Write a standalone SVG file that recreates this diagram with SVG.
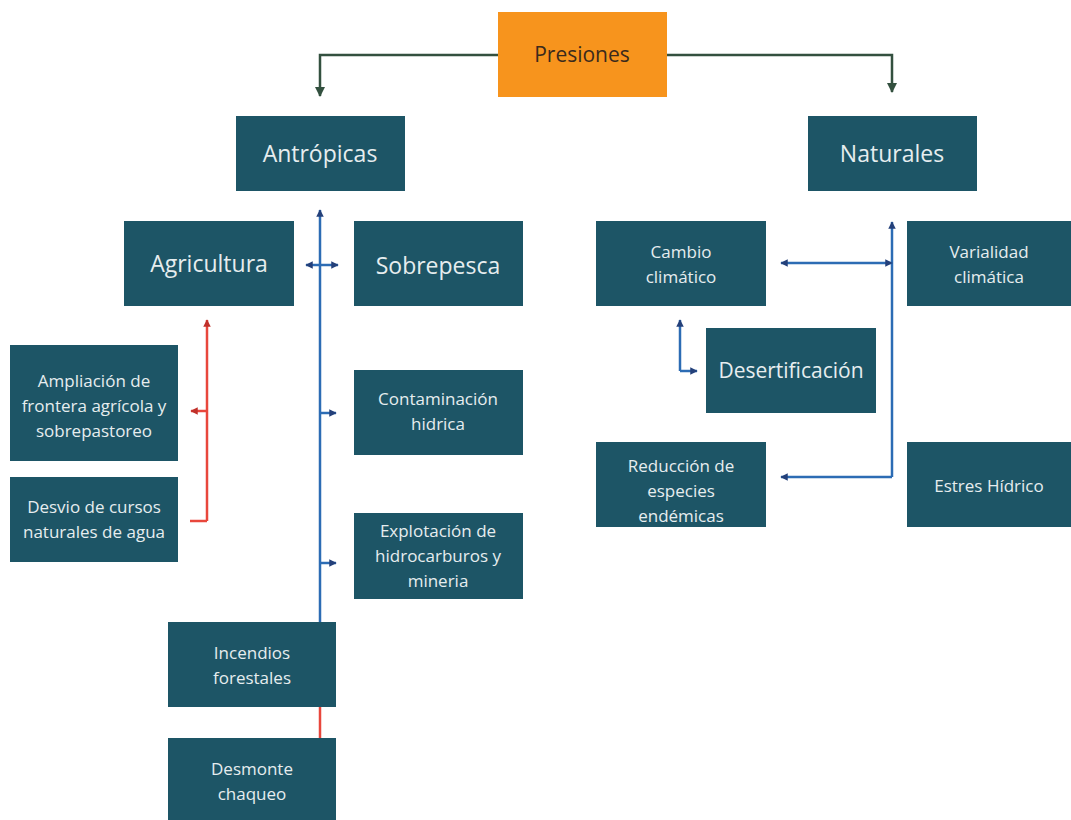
<svg xmlns="http://www.w3.org/2000/svg" width="1071" height="820" viewBox="0 0 1071 820">
  <style>
    .box { fill: #1d5566; }
    .root { fill: #f7941d; }
    .t { font-family: "Open Sans", "Noto Sans", "Liberation Sans", sans-serif; fill: #e6edef; text-anchor: middle; }
    .big { font-size: 23px; }
    .mid { font-size: 17px; }
    .rt { fill: #3b2a1c; font-size: 21px; }
    .green { stroke: #33503f; stroke-width: 2.5; fill: none; }
    .blue { stroke: #2c6cb4; stroke-width: 2.5; fill: none; }
    .red { stroke: #e8473c; stroke-width: 2.5; fill: none; }
  </style>
  <defs>
    <marker id="ag" viewBox="0 0 10 10" refX="9" refY="5" markerWidth="4" markerHeight="4" orient="auto-start-reverse">
      <path d="M0,0 L10,5 L0,10 z" fill="#33503f"/>
    </marker>
    <marker id="ab" viewBox="0 0 10 10" refX="9" refY="5" markerWidth="3" markerHeight="3" orient="auto-start-reverse">
      <path d="M0,0 L10,5 L0,10 z" fill="#24407a"/>
    </marker>
    <marker id="ar" viewBox="0 0 10 10" refX="9" refY="5" markerWidth="3" markerHeight="3" orient="auto-start-reverse">
      <path d="M0,0 L10,5 L0,10 z" fill="#c0302a"/>
    </marker>
  </defs>
  <rect width="1071" height="820" fill="#ffffff"/>

  <g id="connectors">
    <path class="green" d="M498,55 H320 V96" marker-end="url(#ag)"/>
    <path class="green" d="M667,55 H892 V92" marker-end="url(#ag)"/>
    <path class="blue" d="M320,622 V210" marker-end="url(#ab)"/>
    <path class="blue" d="M306,265 H338" marker-start="url(#ab)" marker-end="url(#ab)"/>
    <path class="blue" d="M320,413 H336" marker-end="url(#ab)"/>
    <path class="blue" d="M320,563 H336" marker-end="url(#ab)"/>
    <path class="red" d="M320,707 V738"/>
    <path class="red" d="M207,521 V320" marker-end="url(#ar)"/>
    <path class="red" d="M207,411 H191" marker-end="url(#ar)"/>
    <path class="red" d="M207,521 H190"/>
    <path class="blue" d="M892,477 V222" marker-end="url(#ab)"/>
    <path class="blue" d="M892,477 H781" marker-end="url(#ab)"/>
    <path class="blue" d="M781,263 H892" marker-start="url(#ab)" marker-end="url(#ab)"/>
    <path class="blue" d="M680,371 V320" marker-end="url(#ab)"/>
    <path class="blue" d="M680,371 H697" marker-end="url(#ab)"/>
  </g>

  <g id="presiones">
    <rect class="root" x="498" y="12" width="169" height="85"/>
    <text class="t rt" x="582" y="62">Presiones</text>
  </g>
  <g id="antropicas">
    <rect class="box" x="236" y="116" width="169" height="75"/>
    <text class="t big" x="320" y="162">Antrópicas</text>
  </g>
  <g id="naturales">
    <rect class="box" x="808" y="116" width="169" height="75"/>
    <text class="t big" x="892" y="162">Naturales</text>
  </g>
  <g id="agricultura">
    <rect class="box" x="124" y="221" width="170" height="85"/>
    <text class="t big" x="209" y="272">Agricultura</text>
  </g>
  <g id="sobrepesca">
    <rect class="box" x="354" y="221" width="169" height="85"/>
    <text class="t big" x="438" y="274">Sobrepesca</text>
  </g>
  <g id="ampliacion">
    <rect class="box" x="10" y="345" width="168" height="116"/>
    <text class="t mid" x="94" y="387">Ampliación de</text>
    <text class="t mid" x="94" y="412">frontera agrícola y</text>
    <text class="t mid" x="94" y="437">sobrepastoreo</text>
  </g>
  <g id="desvio">
    <rect class="box" x="10" y="477" width="168" height="85"/>
    <text class="t mid" x="94" y="513">Desvio de cursos</text>
    <text class="t mid" x="94" y="538">naturales de agua</text>
  </g>
  <g id="contaminacion">
    <rect class="box" x="354" y="370" width="169" height="85"/>
    <text class="t mid" x="438" y="405">Contaminación</text>
    <text class="t mid" x="438" y="430">hidrica</text>
  </g>
  <g id="explotacion">
    <rect class="box" x="354" y="513" width="169" height="86"/>
    <text class="t mid" x="438" y="537">Explotación de</text>
    <text class="t mid" x="438" y="562">hidrocarburos y</text>
    <text class="t mid" x="438" y="587">mineria</text>
  </g>
  <g id="incendios">
    <rect class="box" x="168" y="622" width="168" height="85"/>
    <text class="t mid" x="252" y="659">Incendios</text>
    <text class="t mid" x="252" y="684">forestales</text>
  </g>
  <g id="desmonte">
    <rect class="box" x="168" y="738" width="168" height="82"/>
    <text class="t mid" x="252" y="775">Desmonte</text>
    <text class="t mid" x="252" y="800">chaqueo</text>
  </g>
  <g id="cambio">
    <rect class="box" x="596" y="221" width="170" height="85"/>
    <text class="t mid" x="681" y="258">Cambio</text>
    <text class="t mid" x="681" y="283">climático</text>
  </g>
  <g id="variabilidad">
    <rect class="box" x="907" y="221" width="164" height="85"/>
    <text class="t mid" x="989" y="258">Varialidad</text>
    <text class="t mid" x="989" y="283">climática</text>
  </g>
  <g id="desertificacion">
    <rect class="box" x="706" y="328" width="170" height="85"/>
    <text class="t big" x="791" y="378" style="font-size:21px">Desertificación</text>
  </g>
  <g id="reduccion">
    <rect class="box" x="596" y="442" width="170" height="85"/>
    <text class="t mid" x="681" y="472">Reducción de</text>
    <text class="t mid" x="681" y="497">especies</text>
    <text class="t mid" x="681" y="522">endémicas</text>
  </g>
  <g id="estres">
    <rect class="box" x="907" y="442" width="164" height="85"/>
    <text class="t mid" x="989" y="492">Estres Hídrico</text>
  </g>
</svg>
